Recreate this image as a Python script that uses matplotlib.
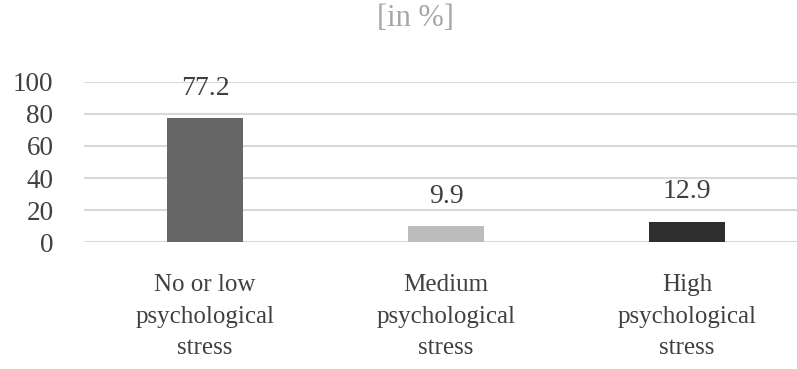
import matplotlib.pyplot as plt
import numpy as np

categories = ["No or low\npsychological\nstress", "Medium\npsychological\nstress", "High\npsychological\nstress"]
values = [77.2, 9.9, 12.9]
bar_colors = ["#666666", "#bcbcbc", "#2e2e2e"]
y_ticks = [0, 20, 40, 60, 80, 100]

plt.rcParams['font.family'] = ['Liberation Serif', 'DejaVu Serif']

def main():
    fig = plt.figure(figsize=(7.97, 3.69), dpi=100)
    ax = fig.add_axes([84 / 797, 1 - 242.3 / 369, 1 - 84 / 797, (242.3 - 81.7) / 369])

    x = np.arange(len(categories))
    bars = ax.bar(x, values, width=0.315, color=bar_colors, zorder=3)

    # value labels above each bar
    for rect, v in zip(bars, values):
        ax.annotate(f"{v}", xy=(rect.get_x() + rect.get_width() / 2, v),
                    textcoords="offset points", xytext=(0, 21.5),
                    ha='center', va='center', fontsize=20, color="#404040")

    ax.set_xlim(-0.502, 2.456)
    ax.set_ylim(0, 100)
    ax.set_yticks(y_ticks)
    ax.set_xticks(x)
    ax.set_xticklabels(categories, fontsize=18, color="#404040", linespacing=1.55)
    ax.tick_params(axis='y', length=0, pad=22, labelsize=19.5, labelcolor="#404040")
    ax.tick_params(axis='x', length=0, pad=23)

    ax.grid(axis='y', color="#d9d9d9", linewidth=1.5, zorder=0)
    for s in ax.spines.values():
        s.set_visible(False)

    fig.text(415 / 797, 1 - 19 / 369, "[in %]", ha='center', va='center',
             fontsize=22, color="#a6a6a6")

    fig.savefig("out.png", dpi=100)

if __name__ == "__main__":
    main()
